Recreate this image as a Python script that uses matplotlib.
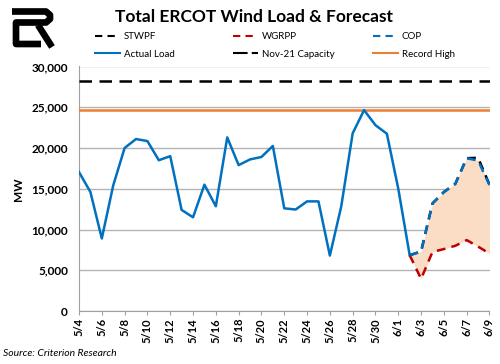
import matplotlib
matplotlib.use("Agg")
import matplotlib.pyplot as plt
from matplotlib.lines import Line2D
import numpy as np

# ---- data ----
dates = ["5/4", "5/5", "5/6", "5/7", "5/8", "5/9", "5/10", "5/11", "5/12", "5/13",
         "5/14", "5/15", "5/16", "5/17", "5/18", "5/19", "5/20", "5/21", "5/22", "5/23",
         "5/24", "5/25", "5/26", "5/27", "5/28", "5/29", "5/30", "5/31", "6/1", "6/2",
         "6/3", "6/4", "6/5", "6/6", "6/7", "6/8", "6/9"]
actual_load = [17050, 14600, 8900, 15400, 20000, 21100, 20850, 18500, 19000, 12400,
               11500, 15500, 12850, 21300, 17900, 18600, 18900, 20250, 12600, 12450,
               13450, 13450, 6800, 12850, 21800, 24650, 22800, 21750, 15000, 6850]
forecast_dates = ["6/2", "6/3", "6/4", "6/5", "6/6", "6/7", "6/8", "6/9"]
stwpf = [6850, 7300, 13200, 14600, 15600, 18750, 18800, 15500]
wgrpp = [6850, 3950, 7250, 7600, 8000, 8700, 7900, 7050]
cop = [6850, 7300, 13200, 14600, 15600, 18750, 18450, 15450]
nov21_capacity = 28200
record_high = 24700
tick_labels = dates[::2]

plt.rcParams['font.family'] = ['Lato', 'DejaVu Sans']

fig = plt.figure(figsize=(5.0, 3.64), dpi=100)
ax = fig.add_axes([79/500, 1-311/364, (489.5-79)/500, (311-66.5)/364])

x_all = np.arange(len(dates))
x_act = x_all[:len(actual_load)]
f_idx = [dates.index(d) for d in forecast_dates]

blue = "#0070C0"
red = "#C00000"
orange = "#ED7D31"

ax.fill_between(f_idx, wgrpp, cop, color="#FBDCC4", lw=0, zorder=1)
ax.axhline(nov21_capacity, color="black", lw=1.8, ls=(0, (5, 3)), zorder=3)
ax.axhline(record_high, color=orange, lw=1.8, zorder=3)
ax.plot(x_act, actual_load, color=blue, lw=1.8, zorder=4)
ax.plot(f_idx, stwpf, color="black", lw=1.8, ls=(0, (3.5, 2.5)), zorder=4)
ax.plot(f_idx, wgrpp, color=red, lw=1.8, ls=(0, (3.5, 2.5)), zorder=5)
ax.plot(f_idx, cop, color=blue, lw=1.8, ls=(0, (3.5, 2.5)), zorder=6)

ax.set_xlim(0, len(dates) - 1)
ax.set_ylim(0, 30000)
ax.set_yticks(np.arange(0, 30001, 5000))
ax.set_yticklabels([f"{v:,}" for v in range(0, 30001, 5000)], fontsize=8.5, fontweight="bold")
ax.set_xticks(x_all[::2])
ax.set_xticklabels(tick_labels, rotation=90, fontsize=8, fontweight="bold")
ax.tick_params(axis="y", length=0, pad=8)
ax.tick_params(axis="x", length=3, color="#A0A0A0", pad=2)
ax.grid(axis="y", color="#B4B4B4", lw=1)
ax.set_axisbelow(True)
for s in ["top", "right"]:
    ax.spines[s].set_visible(False)
for s in ["left", "bottom"]:
    ax.spines[s].set_color("#A0A0A0")
ax.set_ylabel("MW", fontsize=8.5, fontweight="bold", labelpad=5)

# title
fig.text(254/500, 1 - 17/364, "Total ERCOT Wind Load & Forecast", ha="center", va="center",
         fontsize=12.5, fontweight="bold")

# legend: three fixed-position columns
dash = (0, (3.5, 2.5))
columns = [
    ([Line2D([], [], color="black", lw=1.5, ls=dash), Line2D([], [], color=blue, lw=1.5)],
     ["STWPF", "Actual Load"], 95),
    ([Line2D([], [], color=red, lw=1.5, ls=dash), Line2D([], [], color="black", lw=1.5, ls=(0, (7, 2)))],
     ["WGRPP", "Nov-21 Capacity"], 233),
    ([Line2D([], [], color=blue, lw=1.5, ls=dash), Line2D([], [], color=orange, lw=1.5)],
     ["COP", "Record High"], 373),
]
for hs, ls_, x0 in columns:
    fig.legend(hs, ls_, loc="center left", bbox_to_anchor=(x0/500, 1 - 45.5/364),
               frameon=False, fontsize=7, handlelength=2.55, handletextpad=0.4,
               labelspacing=0.85, borderpad=0, borderaxespad=0)

# logo
def px(xs, ys):
    return [x/500 for x in xs], [1 - y/364 for y in ys]
lx, ly = px([41, 16, 16, 46, 50, 50, 46, 12], [44, 44, 22.5, 22.5, 19, 15, 11.5, 11.5])
fig.add_artist(Line2D(lx, ly, color="black", lw=4.8, solid_joinstyle="round",
                      solid_capstyle="butt", transform=fig.transFigure))
lx, ly = px([38, 52], [25, 47])
fig.add_artist(Line2D(lx, ly, color="black", lw=4.8, solid_capstyle="butt",
                      transform=fig.transFigure))

fig.text(3/500, 1 - 353/364, "Source: Criterion Research", fontsize=7.5, style="italic",
         ha="left", va="center")

fig.savefig("out.png", dpi=100)
